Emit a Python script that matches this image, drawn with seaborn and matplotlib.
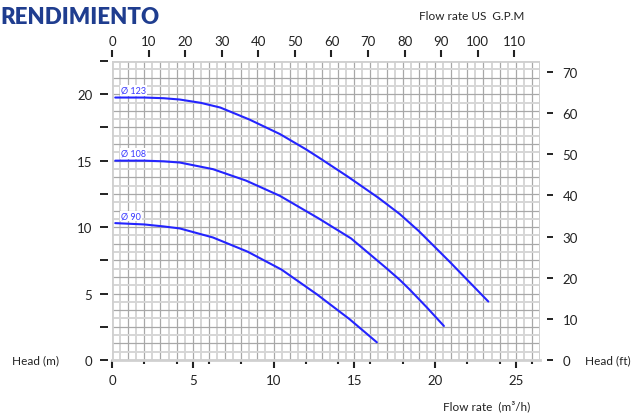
import numpy as np
import pandas as pd
import matplotlib
matplotlib.use("Agg")
import matplotlib.pyplot as plt
import seaborn as sns
from matplotlib.ticker import FixedLocator, FuncFormatter

# ---- data (flow m3/h, head m) ----
q_123 = [0.2, 2.0, 3.2, 4.2, 5.5, 6.7, 8.5, 10.4, 12.0, 12.8, 14.6, 16.5, 17.8, 19.0, 20.9, 22.1, 23.3]
h_123 = [19.75, 19.75, 19.7, 19.6, 19.35, 19.0, 18.1, 17.0, 15.86, 15.24, 13.8, 12.2, 11.0, 9.7, 7.4, 5.9, 4.4]
q_108 = [0.2, 2.0, 3.2, 4.2, 6.25, 8.3, 10.4, 12.8, 14.8, 16.95, 17.8, 18.4, 19.5, 20.55]
h_108 = [15.0, 15.0, 14.95, 14.86, 14.36, 13.5, 12.35, 10.65, 9.15, 6.95, 6.05, 5.34, 3.95, 2.56]
q_90 = [0.2, 2.0, 3.2, 4.2, 6.25, 8.4, 10.5, 12.7, 14.7, 16.4]
h_90 = [10.3, 10.2, 10.05, 9.9, 9.22, 8.15, 6.8, 4.93, 3.08, 1.33]
curve_labels = ["Ø 123", "Ø 108", "Ø 90"]

x_ticks = [0, 5, 10, 15, 20, 25]
x_minor = [2, 4, 6, 8, 12, 14, 16, 18, 22, 24, 26]
y_ticks = [0, 2.5, 5, 7.5, 10, 12.5, 15, 17.5, 20, 22.5]
ft_ticks = [0, 10, 20, 30, 40, 50, 60, 70]
gpm_ticks = [0, 10, 20, 30, 40, 50, 60, 70, 80, 90, 100, 110]

frames = []
for lab, q, h in zip(curve_labels, [q_123, q_108, q_90], [h_123, h_108, h_90]):
    frames.append(pd.DataFrame({"q": q, "h": h, "curve": lab}))
df = pd.concat(frames, ignore_index=True)

sns.set_style("white")
plt.rcParams["font.family"] = ["Lato", "DejaVu Sans"]

W, H = 640, 414
fig = plt.figure(figsize=(6.4, 4.14), dpi=100)
L, R, B, T = 112, 540, 361, 62
ax = fig.add_axes([L / W, 1 - B / H, (R - L) / W, (B - T) / H])

XMAX, YMAX = 26.5, 22.5
ax.set_xlim(0, XMAX)
ax.set_ylim(0, YMAX)

# grid
for i, xv in enumerate(np.arange(0, XMAX + 0.01, 0.5)):
    ax.axvline(xv, color="#a8a8a8" if i % 2 == 0 else "#d6d6d6",
               lw=0.9 if i % 2 == 0 else 1.4, zorder=0)
for i, yv in enumerate(np.arange(0, YMAX + 0.01, 0.625)):
    ax.axhline(yv, color="#a8a8a8" if i % 2 == 0 else "#d6d6d6",
               lw=0.9 if i % 2 == 0 else 1.4, zorder=0)
ax.axvline(XMAX, color="#d0d0d0", lw=2.0, zorder=0)
ax.axhline(YMAX, color="#d0d0d0", lw=2.0, zorder=0)
ax.axvline(0, color="#d0d0d0", lw=2.0, zorder=0)

sns.lineplot(data=df, x="q", y="h", hue="curve", palette=["#2424ff"] * 3,
             sort=False, legend=False, lw=1.5, ax=ax, zorder=3)

for lab, h in zip(curve_labels, [h_123, h_108, h_90]):
    ax.text(0.55, h[0] + 0.55, lab, color="#3a3aff", fontsize=6.5,
            ha="left", va="center", zorder=4,
            bbox=dict(facecolor="white", edgecolor="none", pad=0.6))

for s in ["left", "top", "right"]:
    ax.spines[s].set_visible(False)
ax.spines["bottom"].set_color("#d0d0d0")
ax.spines["bottom"].set_linewidth(2.0)
ax.spines["left"].set_position(("outward", 2.9))

ax.xaxis.set_major_locator(FixedLocator(x_ticks))
ax.xaxis.set_minor_locator(FixedLocator(x_minor))
ax.yaxis.set_major_locator(FixedLocator(y_ticks))
ax.yaxis.set_major_formatter(FuncFormatter(lambda v, p: f"{v:g}" if v % 5 == 0 else ""))
ax.tick_params(axis="x", which="major", direction="out", length=5.8, width=1.5,
               color="#222222", pad=4, labelsize=9.5, labelcolor="#222222", bottom=True)
ax.tick_params(axis="x", which="minor", direction="out", length=3.0, width=1.5,
               color="#222222", bottom=True)
ax.tick_params(axis="y", which="major", direction="out", length=5.8, width=1.4,
               color="#222222", pad=5.5, labelsize=9.5, labelcolor="#222222", left=True)
ax.set_xlabel("")
ax.set_ylabel("")

# right: feet
FT_MAX = 72.7
axr = ax.twinx()
axr.set_ylim(0, FT_MAX)
for s in ["left", "top", "bottom"]:
    axr.spines[s].set_visible(False)
axr.spines["right"].set_position(("outward", 5))
axr.spines["right"].set_visible(False)
axr.yaxis.set_major_locator(FixedLocator(ft_ticks))
axr.tick_params(axis="y", direction="out", length=4.6, width=1.4, color="#222222",
                pad=6.5, labelsize=9.5, labelcolor="#222222", right=True)
axr.grid(False)

# top: GPM
GPM_MAX = 117.0
axt = ax.twiny()
axt.set_xlim(0, GPM_MAX)
for s in ["left", "right", "bottom"]:
    axt.spines[s].set_visible(False)
axt.spines["top"].set_position(("outward", 3.2))
axt.spines["top"].set_visible(False)
axt.xaxis.set_major_locator(FixedLocator(gpm_ticks))
axt.tick_params(axis="x", direction="out", length=5.0, width=1.5, color="#222222",
                pad=2.0, labelsize=9.5, labelcolor="#222222", top=True)
axt.grid(False)

# texts
fig.text(0.0, 1 - 17.5 / H, "RENDIMIENTO", fontsize=16, fontweight="heavy",
         color="#1f3d8f", ha="left", va="center")
fig.text(472 / W, 1 - 16 / H, "Flow rate US  G.P.M", fontsize=8.5, color="#222222",
         ha="center", va="center")
fig.text(487 / W, 1 - 406 / H, "Flow rate  (m³/h)", fontsize=8.5, color="#222222",
         ha="center", va="center")
fig.text(36 / W, 1 - 361 / H, "Head (m)", fontsize=8.5, color="#222222",
         ha="center", va="center")
fig.text(608 / W, 1 - 361 / H, "Head (ft)", fontsize=8.5, color="#222222",
         ha="center", va="center")

fig.savefig("out.png", dpi=100)
